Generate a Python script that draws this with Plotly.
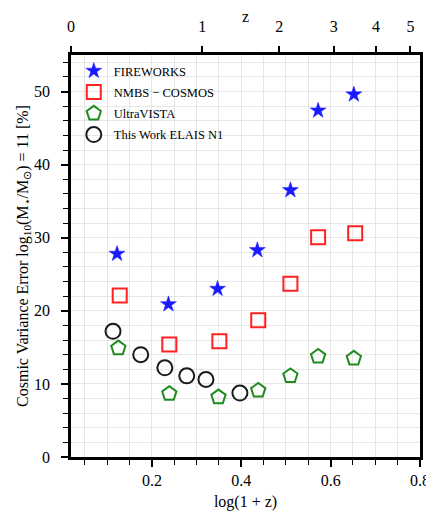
import numpy as np
import plotly.graph_objects as go

# Data
fw_x = [0.122, 0.237, 0.347, 0.436, 0.510, 0.572, 0.652]
fw_y = [27.8, 20.9, 23.0, 28.3, 36.5, 47.4, 49.6]

nm_x = [0.128, 0.239, 0.351, 0.438, 0.510, 0.572, 0.655]
nm_y = [22.1, 15.4, 15.85, 18.7, 23.7, 30.05, 30.6]

uv_x = [0.125, 0.239, 0.349, 0.438, 0.510, 0.572, 0.652]
uv_y = [14.9, 8.65, 8.2, 9.1, 11.1, 13.75, 13.5]

en_x = [0.113, 0.175, 0.229, 0.278, 0.321, 0.397]
en_y = [17.2, 14.0, 12.2, 11.1, 10.6, 8.75]

z_ticks = [0, 1, 2, 3, 4, 5]

FONT = "Liberation Serif"
GRID = "#e6e6e6"

fig = go.Figure()
fig.add_trace(go.Scatter(x=fw_x, y=fw_y, mode="markers", name="FIREWORKS", legendgroup="a",
                         marker=dict(symbol="star", size=12, color="#1a1aff",
                                     line=dict(width=0.5, color="#1a1aff"))))
fig.add_trace(go.Scatter(x=nm_x, y=nm_y, mode="markers", name="NMBS − COSMOS", legendgroup="b",
                         marker=dict(symbol="square-open", size=14, color="#ff2020",
                                     line=dict(width=2))))
fig.add_trace(go.Scatter(x=uv_x, y=uv_y, mode="markers", name="UltraVISTA", legendgroup="c",
                         marker=dict(symbol="pentagon-open", size=15, color="#1f8b1f",
                                     line=dict(width=2))))
fig.add_trace(go.Scatter(x=en_x, y=en_y, mode="markers", name="This Work ELAIS N1", legendgroup="d",
                         marker=dict(symbol="circle-open", size=15, color="#1a1a1a",
                                     line=dict(width=2))))
# invisible trace to anchor the top (redshift) axis
fig.add_trace(go.Scatter(x=[np.log10(1 + z) for z in z_ticks], y=[None] * len(z_ticks),
                         xaxis="x2", yaxis="y", mode="markers", showlegend=False,
                         hoverinfo="skip", marker=dict(opacity=0)))

# the page body adds an 8px margin, so the figure is 8px smaller
fig.update_layout(
    width=426, height=509,
    margin=dict(l=63, r=14, t=47, b=60),
    paper_bgcolor="white", plot_bgcolor="white",
    font=dict(family=FONT, size=16, color="black"),
    showlegend=True,
    legend=dict(x=0.008, y=0.997, xanchor="left", yanchor="top",
                bgcolor="rgba(0,0,0,0)", borderwidth=0,
                font=dict(family=FONT, size=12.5), tracegroupgap=2,
                itemsizing="trace"),
    xaxis=dict(
        range=[0.019, 0.8], tickvals=[0.2, 0.4, 0.6, 0.8],
        ticktext=["0.2", "0.4", "0.6", "0.8"], automargin=False,
        ticks="outside", ticklen=7, tickwidth=2, tickcolor="black",
        showline=True, linewidth=2.5, linecolor="black", mirror=True,
        showgrid=True, gridcolor=GRID, gridwidth=1, zeroline=False,
        minor=dict(dtick=0.05, tick0=0, ticks="outside", ticklen=5, tickwidth=1,
                   tickcolor="black", showgrid=True, gridcolor=GRID),
        title=dict(text="log(1 + z)", font=dict(size=16), standoff=8),
        tickfont=dict(size=16),
    ),
    xaxis2=dict(
        overlaying="x", side="top", range=[0, 0.8], automargin=False,
        tickvals=[np.log10(1 + z) for z in z_ticks],
        ticktext=[str(z) for z in z_ticks],
        ticks="outside", ticklen=8, tickwidth=2, tickcolor="black",
        ticklabelstandoff=8,
        showline=False, showgrid=False, zeroline=False,
        title=dict(text="z", font=dict(size=16), standoff=7),
        tickfont=dict(size=16),
    ),
    yaxis=dict(
        range=[0, 55], tickvals=[0, 10, 20, 30, 40, 50], automargin=False,
        ticks="outside", ticklen=7, tickwidth=2, tickcolor="black",
        ticklabelstandoff=8,
        showline=True, linewidth=2.5, linecolor="black", mirror=True,
        showgrid=True, gridcolor=GRID, gridwidth=1, zeroline=False,
        minor=dict(dtick=2, tick0=0, ticks="outside", ticklen=5, tickwidth=1,
                   tickcolor="black", showgrid=True, gridcolor=GRID),
        title=dict(text="Cosmic Variance Error log<sub>10</sub>(M<sub>⋆</sub>/M<sub>⊙</sub>) = 11 [%]",
                   font=dict(size=16), standoff=2),
        tickfont=dict(size=16),
    ),
)

fig.write_html("out.html")
